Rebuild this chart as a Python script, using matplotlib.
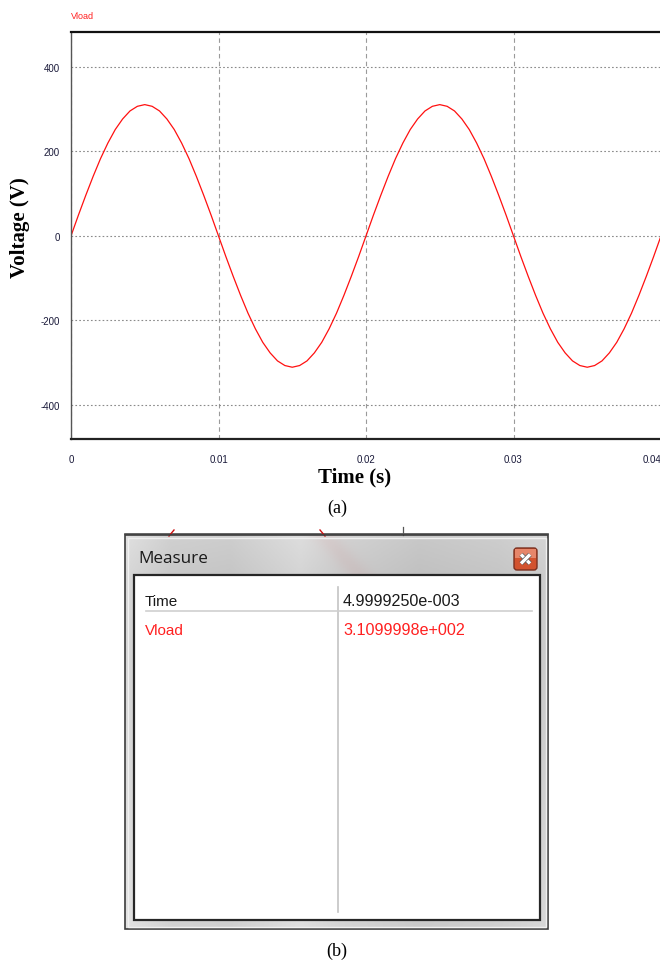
import numpy as np
import matplotlib.pyplot as plt
from matplotlib.patches import Rectangle, FancyBboxPatch
import matplotlib.patheffects as pe

# load voltage sampled every 0.5 ms over two 50 Hz cycles
sample_step = 0.0005
vload = [0, 49, 96, 141, 183, 220, 252, 277, 296, 307, 311, 307, 296, 277, 252, 220,
         183, 141, 96, 49, 0, -49, -96, -141, -183, -220, -252, -277, -296, -307,
         -311, -307, -296, -277, -252, -220, -183, -141, -96, -49,
         0, 49, 96, 141, 183, 220, 252, 277, 296, 307, 311, 307, 296, 277, 252, 220,
         183, 141, 96, 49, 0, -49, -96, -141, -183, -220, -252, -277, -296, -307,
         -311, -307, -296, -277, -252, -220, -183, -141, -96, -49, 0]
time_s = sample_step * np.arange(len(vload))

xticks = [0, 0.01, 0.02, 0.03, 0.04]
xtick_labels = ["0", "0.01", "0.02", "0.03", "0.04"]
yticks = [-400, -200, 0, 200, 400]
ytick_labels = ["-400", "-200", "0", "200", "400"]

# cursor readout shown in the Measure window
measure_rows = ["Time", "Vload"]
measure_values = [4.9999250e-003, 3.1099998e+002]


def sci3(v):
    # simulator style: 7 decimals, three digit exponent
    mant, exp = f"{v:.7e}".split("e")
    return f"{mant}e{int(exp):+04d}"


W, H = 660, 962


def box(x0, y0, x1, y1):
    return [x0 / W, 1 - y1 / H, (x1 - x0) / W, (y1 - y0) / H]


fig = plt.figure(figsize=(W / 100, H / 100), dpi=100)

tick_font = ["Liberation Sans Narrow", "Liberation Sans"]
serif = ["Liberation Serif", "DejaVu Serif"]

# ---- (a) waveform ----
ax = fig.add_axes(box(71, 33, 661, 440), zorder=2)
ax.plot(time_s, vload, color="#ff1010", lw=0.9)
ax.set_xlim(0, 0.04)
ax.set_ylim(-481, 483)
ax.set_xticks(xticks)
ax.set_xticklabels(xtick_labels)
ax.set_yticks(yticks)
ax.set_yticklabels(ytick_labels)
ax.tick_params(length=0, labelsize=7, labelcolor="#1a1a3a")
ax.tick_params(axis="x", pad=11)
ax.tick_params(axis="y", pad=8)
for lab in ax.get_xticklabels() + ax.get_yticklabels():
    lab.set_family(tick_font)
# last time label sits at the right edge of the figure
ax.get_xticklabels()[-1].set_ha("right")
ax.grid(axis="y", color="#8a8a8a", lw=0.8, linestyle=(0, (1.5, 2)))
ax.grid(axis="x", color="#9a9a9a", lw=0.8, linestyle=(0, (4, 3)))
ax.spines["right"].set_visible(False)
ax.spines["left"].set_color("#555555")
ax.spines["left"].set_linewidth(1.0)
ax.spines["bottom"].set_color("#222222")
ax.spines["bottom"].set_linewidth(1.6)
ax.spines["top"].set_color("#111111")
ax.spines["top"].set_linewidth(1.6)

ax.set_ylabel("Voltage (V)", fontsize=15, fontweight="bold", family=serif)
ax.yaxis.set_label_coords((20 - 71) / 590, (440 - 228) / 407)
ax.yaxis.label.set_va("center")
ax.set_xlabel("Time (s)", fontsize=15, fontweight="bold", family=serif)
ax.xaxis.set_label_coords((355 - 71) / 590, -(477 - 440) / 407)
ax.xaxis.label.set_va("center")
ax.text(0, (440 - 17) / 407, "Vload", transform=ax.transAxes, color="#ff2020",
        fontsize=6.5, family=tick_font, va="center", ha="left")

# ---- (b) Measure window, drawn in pixel coordinates ----
wax = fig.add_axes([0, 0, 1, 1], zorder=1)
wax.set_axis_off()

fig.text(337 / W, 1 - 508 / H, "(a)", fontsize=13, family=serif, ha="center", va="center")
fig.text(337 / W, 1 - 951 / H, "(b)", fontsize=13, family=serif, ha="center", va="center")

wl, wr, wt, wb = 125, 548, 536, 930

# glass frame: grey with lighter and darker bands
cols = np.linspace(wl, wr, 200)
shade = np.interp(cols, [wl, 170, 230, 300, 340, 420, 500, wr],
                  [0.86, 0.80, 0.79, 0.85, 0.81, 0.77, 0.79, 0.82])
rows = np.linspace(wt, wb, 120)
tint = np.interp(rows, [wt, 576, 660, wb], [1.02, 0.98, 0.97, 1.03])
frame = np.clip(shade[None, :] * tint[:, None], 0, 1)
rgb = np.dstack([frame, frame, frame])
# faint red trace seen through the title bar
yy, xx = np.meshgrid(rows, cols, indexing="ij")
streak = np.exp(-((xx - (325 + (yy - wt) * 0.9)) / 14) ** 2) * (yy < 576)
rgb[..., 1] -= 0.035 * streak
rgb[..., 2] -= 0.035 * streak
wax.imshow(np.clip(rgb, 0, 1), extent=(wl, wr, wb, wt), aspect="auto", zorder=1)

wax.add_patch(Rectangle((wl, wt), wr - wl, wb - wt, fill=False, ec="#3c3c3c", lw=1.2, zorder=3))
wax.add_patch(Rectangle((wl + 2.5, wt + 2.5), wr - wl - 5, wb - wt - 5, fill=False,
                        ec="#f0f0f0", lw=1.0, zorder=3))

# window behind: its border and curve peeking above the dialog
wax.plot([wl, wr], [534.5, 534.5], color="#4a4a4a", lw=1.2, zorder=2)
wax.plot([403, 403], [528, 536], color="#555555", lw=0.9, zorder=2)
wax.plot([169, 174], [537, 531], color="#cc1010", lw=1.0, zorder=2)
wax.plot([320, 325], [531, 537], color="#cc1010", lw=1.0, zorder=2)

# client area
wax.add_patch(Rectangle((134, 576), 540 - 134, 921 - 576, fc="white", ec="#262626",
                        lw=1.6, zorder=4))
wax.plot([338, 338], [588, 913], color="#c4c4c4", lw=1.2, zorder=5)
wax.plot([146, 532], [612, 612], color="#cfcfcf", lw=1.2, zorder=5)

wax.text(138, 559, "Measure", fontsize=12.3, family=["Open Sans", "DejaVu Sans"],
         color="#1a1a1a", va="center", ha="left", zorder=6)

# close button
wax.add_patch(FancyBboxPatch((514, 549), 23, 22, boxstyle="round,pad=0,rounding_size=3",
                             fc="#d2532f", ec="#7a3020", lw=1.0, zorder=6))
wax.add_patch(Rectangle((515, 550), 21, 9, fc="#e6866a", ec="none", zorder=6))
for xs, ys in [([521, 530], [555.5, 564.5]), ([521, 530], [564.5, 555.5])]:
    wax.plot(xs, ys, color="white", lw=2.4, solid_capstyle="butt", zorder=7,
             path_effects=[pe.Stroke(linewidth=3.4, foreground="#555555"), pe.Normal()])

row_y = [602, 631]
row_colors = ["#1a1a1a", "#ff2020"]
for name, val, y, c in zip(measure_rows, measure_values, row_y, row_colors):
    wax.text(145, y, name, fontsize=11, family="Liberation Sans", color=c,
             va="center", ha="left", zorder=6)
    wax.text(343, y, sci3(val), fontsize=11.6, family="Liberation Sans", color=c,
             va="center", ha="left", zorder=6)

wax.set_xlim(0, W)
wax.set_ylim(H, 0)

fig.savefig("out.png", dpi=100)
